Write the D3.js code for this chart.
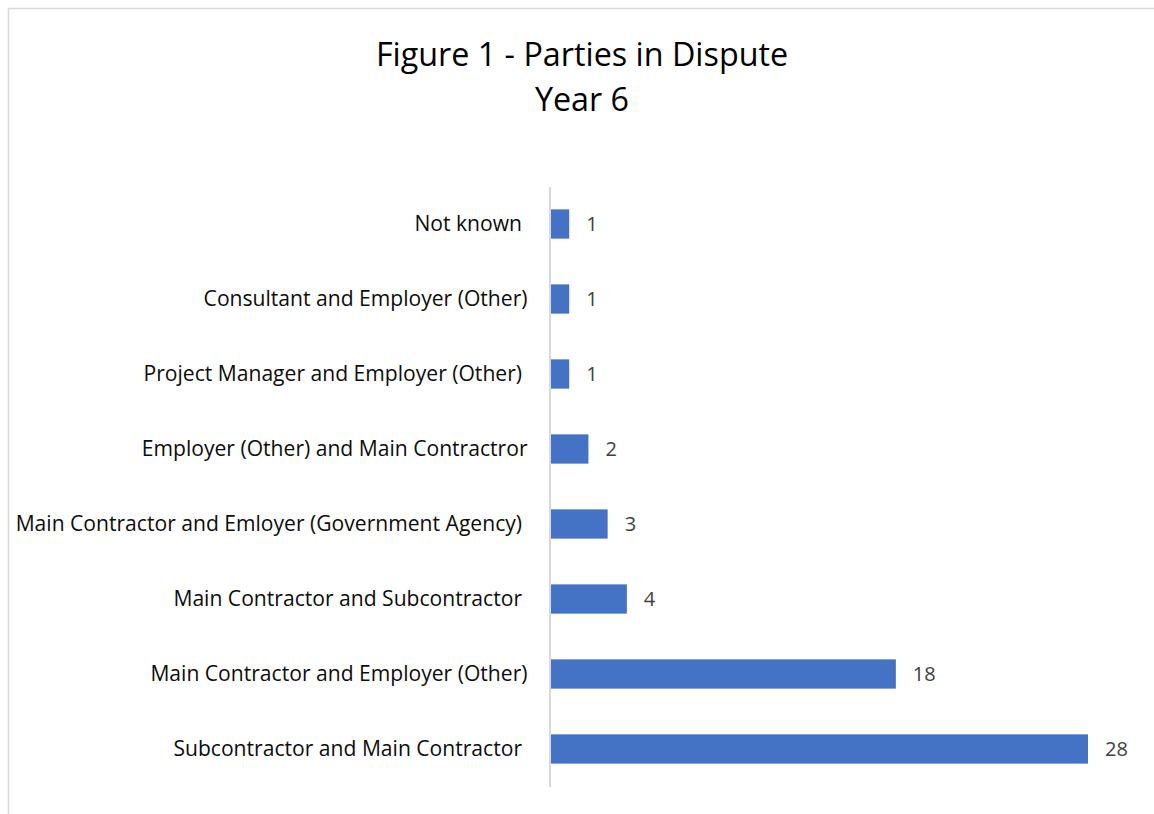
<!DOCTYPE html>
<html>
<head>
<meta charset="utf-8">
<script src="https://cdn.jsdelivr.net/npm/d3@7"></script>
<style>
  html, body { margin: 0; padding: 0; background: #fff; }
  svg text { font-family: "Open Sans", Lato, sans-serif; white-space: pre; }
</style>
</head>
<body>
<svg id="chart" width="1154" height="814"></svg>
<script>
const categories = [
  "Not known ",
  "Consultant and Employer (Other)",
  "Project Manager and Employer (Other) ",
  "Employer (Other) and Main Contractror",
  "Main Contractor and Emloyer (Government Agency) ",
  "Main Contractor and Subcontractor ",
  "Main Contractor and Employer (Other)",
  "Subcontractor and Main Contractor "
];
const values = [1, 1, 1, 2, 3, 4, 18, 28];
const titleLines = ["Figure 1 - Parties in Dispute", "Year 6"];

const svg = d3.select("#chart");
const W = 1154, H = 814;

// chart area border
svg.append("rect")
  .attr("x", 8.5).attr("y", 8.5)
  .attr("width", W + 10).attr("height", H + 10)
  .attr("fill", "#fff").attr("stroke", "#d9d9d9").attr("stroke-width", 1.5);

const x0 = 550;
const x = d3.scaleLinear().domain([0, 28]).range([x0, 1088]);
const y = d3.scaleBand().domain(categories).range([186.5, 786.5]).paddingInner(0.61).paddingOuter(0.305);

// title
svg.append("text")
  .attr("x", 582).attr("text-anchor", "middle")
  .attr("font-size", 32.3).attr("fill", "#000")
  .selectAll("tspan").data(titleLines).join("tspan")
  .attr("x", 582).attr("y", (d, i) => 65.5 + i * 45)
  .text(d => d);

// bars
svg.selectAll("rect.bar").data(values).join("rect")
  .attr("class", "bar")
  .attr("x", x(0))
  .attr("y", (d, i) => y(categories[i]))
  .attr("width", d => x(d) - x(0))
  .attr("height", y.bandwidth())
  .attr("fill", "#4472c4");

// value labels
svg.selectAll("text.val").data(values).join("text")
  .attr("class", "val")
  .attr("x", d => x(d) + 17)
  .attr("y", (d, i) => y(categories[i]) + y.bandwidth() / 2)
  .attr("dy", "0.35em")
  .attr("font-size", 20).attr("fill", "#404040")
  .text(d => d);

// axis
const axis = d3.axisLeft(y).tickSize(0).tickPadding(22);
const g = svg.append("g").attr("transform", `translate(${x0 - 0.5},0)`).call(axis);
g.select(".domain").attr("stroke", "#d9d9d9").attr("stroke-width", 2);
g.selectAll(".tick text")
  .attr("font-family", "'Open Sans', Lato, sans-serif")
  .attr("font-size", 21.1).attr("fill", "#0d0d0d")
  .style("white-space", "pre");
</script>
</body>
</html>
